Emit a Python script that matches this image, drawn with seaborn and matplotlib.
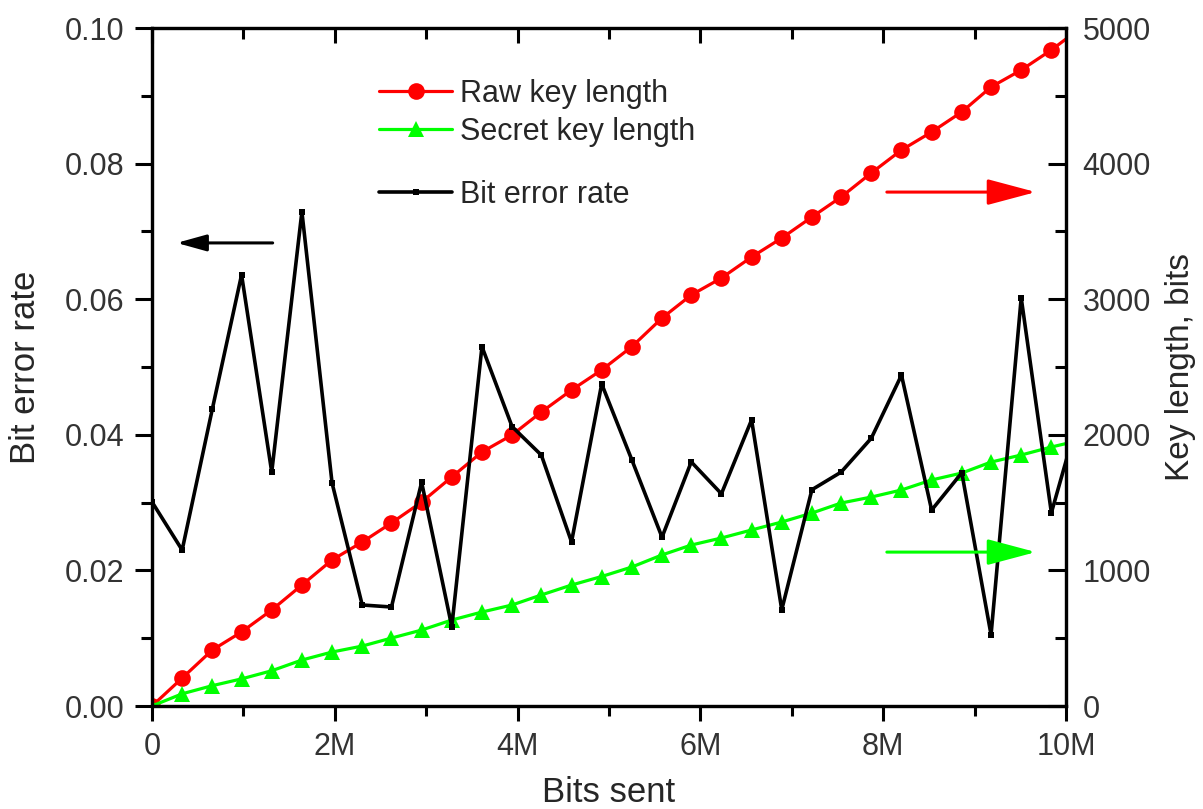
import matplotlib
matplotlib.use("Agg")
import matplotlib.pyplot as plt
import seaborn as sns
import pandas as pd
from matplotlib.ticker import MultipleLocator, FixedLocator

# ---------------- data ----------------
bits_sent_m = [0.00, 0.33, 0.66, 0.98, 1.31, 1.64, 1.97, 2.30, 2.62, 2.95,
               3.28, 3.61, 3.94, 4.26, 4.59, 4.92, 5.25, 5.58, 5.90, 6.23,
               6.56, 6.89, 7.22, 7.54, 7.87, 8.20, 8.53, 8.86, 9.18, 9.51,
               9.84, 10.17]
raw_key = [0, 206, 413, 546, 708, 892, 1077, 1209, 1350, 1504,
           1689, 1873, 1999, 2168, 2330, 2478, 2650, 2861, 3031, 3156,
           3311, 3451, 3606, 3754, 3931, 4100, 4233, 4381, 4565, 4690,
           4838, 5005]
secret_key = [0, 90, 150, 200, 260, 339, 398, 442, 501, 560,
              634, 693, 745, 819, 892, 955, 1025, 1114, 1187, 1239,
              1298, 1357, 1423, 1497, 1541, 1593, 1667, 1718, 1799, 1851,
              1910, 1962]
bit_error_rate = [0.0301, 0.0230, 0.0438, 0.0636, 0.0345, 0.0729, 0.0329, 0.0149, 0.0146, 0.0330,
                  0.0117, 0.0530, 0.0412, 0.0370, 0.0242, 0.0475, 0.0363, 0.0249, 0.0360, 0.0313,
                  0.0422, 0.0142, 0.0319, 0.0345, 0.0395, 0.0488, 0.0289, 0.0344, 0.0105, 0.0602,
                  0.0285, 0.0442]
x_ticks = [0, 2, 4, 6, 8, 10]
x_tick_labels = ["0", "2M", "4M", "6M", "8M", "10M"]
ber_ticks = [0.00, 0.02, 0.04, 0.06, 0.08, 0.10]
ber_tick_labels = ["0.00", "0.02", "0.04", "0.06", "0.08", "0.10"]
key_ticks = [0, 1000, 2000, 3000, 4000, 5000]
key_tick_labels = ["0", "1000", "2000", "3000", "4000", "5000"]

df = pd.DataFrame({"bits": bits_sent_m, "raw": raw_key,
                   "secret": secret_key, "ber": bit_error_rate})

# ---------------- style ----------------
sns.set_theme(style="white")
plt.rcParams["font.family"] = ["Liberation Sans", "DejaVu Sans"]

fig = plt.figure(figsize=(12.03, 8.09), dpi=100)
ax = fig.add_axes([152/1203, 1-706/809, (1066-152)/1203, (706-28)/809])
ax2 = ax.twinx()

# key lengths (right axis)
sns.lineplot(data=df, x="bits", y="raw", ax=ax2, color="#ff0000", marker="o",
             markersize=12, markeredgewidth=0, linewidth=2.3,
             label="Raw key length", sort=False, legend=False)
sns.lineplot(data=df, x="bits", y="secret", ax=ax2, color="#00ff00", marker="^",
             markersize=12, markeredgewidth=0, linewidth=2.3,
             label="Secret key length", sort=False, legend=False)
# bit error rate (left axis)
sns.lineplot(data=df, x="bits", y="ber", ax=ax, color="black", marker="s",
             markersize=4.5, markeredgewidth=0, linewidth=2.6,
             label="Bit error rate", sort=False, legend=False)

ax.set_zorder(ax2.get_zorder() + 1)
ax.patch.set_visible(False)

ax.set_xlim(0, 10)
ax.set_ylim(0, 0.10)
ax2.set_ylim(0, 5000)

tick_color = "#333333"
# x axis
ax.xaxis.set_major_locator(FixedLocator(x_ticks))
ax.set_xticklabels(x_tick_labels)
ax.xaxis.set_minor_locator(MultipleLocator(1))
ax.tick_params(axis="x", which="both", direction="out", bottom=True, top=False,
               labelsize=22, labelcolor=tick_color, pad=8, width=2.2, color="black")
ax.tick_params(axis="x", which="major", length=11)
ax.tick_params(axis="x", which="minor", length=7)
# top ticks via twin's x axis, pointing in
ax2.xaxis.set_visible(True)
ax2.set_xlabel("")
ax2.tick_params(axis="x", which="both", direction="in", bottom=False, top=True,
                labelbottom=False, labeltop=False, width=2.2, color="black")
ax2.tick_params(axis="x", which="major", length=11)
ax2.tick_params(axis="x", which="minor", length=8)

# left y axis
ax.yaxis.set_major_locator(FixedLocator(ber_ticks))
ax.set_yticklabels(ber_tick_labels)
ax.yaxis.set_minor_locator(MultipleLocator(0.01))
ax.tick_params(axis="y", which="both", direction="out", left=True, right=False,
               labelsize=22, labelcolor=tick_color, pad=8, width=2.2, color="black")
ax.tick_params(axis="y", which="major", length=12)
ax.tick_params(axis="y", which="minor", length=8)

# right y axis
ax2.yaxis.set_major_locator(FixedLocator(key_ticks))
ax2.set_yticklabels(key_tick_labels)
ax2.yaxis.set_minor_locator(MultipleLocator(500))
ax2.tick_params(axis="y", which="both", direction="in", left=False, right=True,
                labelsize=22, labelcolor=tick_color, pad=12, width=2.2, color="black")
ax2.tick_params(axis="y", which="major", length=13)
ax2.tick_params(axis="y", which="minor", length=8)

for a in (ax, ax2):
    for s in a.spines.values():
        s.set_linewidth(2.3)
        s.set_color("black")

ax.set_xlabel("Bits sent", fontsize=25, labelpad=10)
ax.set_ylabel("Bit error rate", fontsize=25, labelpad=16)
ax2.set_ylabel("Key length, bits", fontsize=24, labelpad=10)

# arrows
ax.annotate("", xy=(0.27, 0.0683), xytext=(1.32, 0.0683),
            arrowprops=dict(arrowstyle="-|>,head_length=0.9,head_width=0.25",
                            color="black", lw=2.2, mutation_scale=20, shrinkA=0, shrinkB=0))
ax.annotate("", xy=(9.67, 0.0758), xytext=(8.04, 0.0758),
            arrowprops=dict(arrowstyle="-|>,head_length=1.5,head_width=0.4",
                            color="#ff0000", lw=2.2, mutation_scale=20, shrinkA=0, shrinkB=0))
ax.annotate("", xy=(9.67, 0.0227), xytext=(8.04, 0.0227),
            arrowprops=dict(arrowstyle="-|>,head_length=1.5,head_width=0.4",
                            color="#00ff00", lw=2.2, mutation_scale=20, shrinkA=0, shrinkB=0))

# legends
h2, l2 = ax2.get_legend_handles_labels()
h1, l1 = ax.get_legend_handles_labels()
leg1 = ax.legend(h2, l2, loc="center left", bbox_to_anchor=(0.2484, 0.875),
                 frameon=False, fontsize=22, handlelength=2.4, handletextpad=0.25,
                 labelspacing=0.25, borderpad=0, borderaxespad=0)
ax.add_artist(leg1)
ax.legend(h1, l1, loc="center left", bbox_to_anchor=(0.2484, 0.7537),
          frameon=False, fontsize=22, handlelength=2.4, handletextpad=0.25,
          borderpad=0, borderaxespad=0)

fig.savefig("out.png", dpi=100)
